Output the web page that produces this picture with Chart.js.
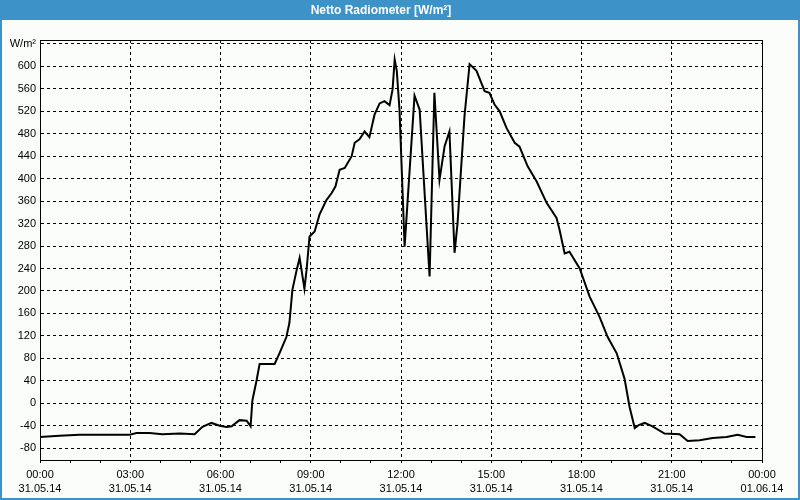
<!DOCTYPE html>
<html>
<head>
<meta charset="utf-8">
<script src="https://cdn.jsdelivr.net/npm/chart.js@4"></script>
<style>
  body { margin: 0; background: #fff; }
</style>
</head>
<body>
<canvas id="myChart" width="800" height="500"></canvas>
<script>
// time of day in hours, net radiation in W/m²
var hours = [
  0.00, 0.65, 1.31, 2.21, 2.98, 3.21, 3.64, 4.07, 4.64, 5.14,
  5.40, 5.70, 5.97, 6.20, 6.37, 6.63, 6.87, 7.00, 7.06, 7.20,
  7.30, 7.80, 7.96, 8.19, 8.29, 8.39, 8.53, 8.63, 8.79, 8.86,
  8.93, 8.96, 9.13, 9.29, 9.52, 9.69, 9.82, 9.96, 10.13, 10.36,
  10.46, 10.62, 10.79, 10.95, 11.12, 11.29, 11.45, 11.62, 11.72, 11.79,
  11.86, 11.95, 12.12, 12.45, 12.62, 12.95, 13.11, 13.28, 13.45, 13.61,
  13.78, 13.88, 14.11, 14.28, 14.51, 14.78, 14.94, 15.11, 15.28, 15.51,
  15.78, 15.94, 16.21, 16.51, 16.84, 17.17, 17.27, 17.44, 17.60, 17.94,
  18.27, 18.60, 18.87, 19.17, 19.43, 19.60, 19.77, 19.90, 20.10, 20.36,
  20.76, 21.26, 21.53, 21.93, 22.36, 22.82, 23.19, 23.49, 23.78
];
var netto = [
  -60, -58, -56, -56, -56, -53, -53, -55, -54, -55,
  -42, -35, -40, -42, -41, -30, -31, -41, 5, 41,
  70, 70, 89, 118, 143, 202, 237, 259, 204, 237,
  279, 297, 306, 336, 362, 374, 386, 416, 419, 440,
  464, 470, 484, 474, 514, 534, 538, 531, 559, 612,
  592, 523, 279, 548, 523, 226, 553, 398, 458, 484,
  268, 321, 511, 604, 592, 556, 553, 532, 520, 490,
  464, 457, 422, 395, 357, 330, 309, 267, 270, 240,
  190, 154, 118, 89, 44, -7, -44, -39, -35, -41,
  -54, -55, -67, -66, -62, -60, -56, -60, -60
];
var yTicks = [-80, -40, 0, 40, 80, 120, 160, 200, 240, 280, 320, 360, 400, 440, 480, 520, 560, 600, 640];
var xLabels = {
  0: ['00:00', '31.05.14'], 3: ['03:00', '31.05.14'], 6: ['06:00', '31.05.14'],
  9: ['09:00', '31.05.14'], 12: ['12:00', '31.05.14'], 15: ['15:00', '31.05.14'],
  18: ['18:00', '31.05.14'], 21: ['21:00', '31.05.14'], 24: ['00:00', '01.06.14']
};

var points = hours.map(function (h, i) { return {x: h, y: netto[i]}; });

var frame = {
  id: 'frame',
  beforeDraw: function (chart) {
    var c = chart.ctx;
    c.save();
    c.fillStyle = '#fbfdfb';
    c.fillRect(0, 0, chart.width, chart.height);
    c.fillStyle = '#3d92c8';
    c.fillRect(0, 0, chart.width, 20);
    c.strokeStyle = '#3d92c8';
    c.lineWidth = 2;
    c.strokeRect(1, 1, chart.width - 2, chart.height - 2);
    c.restore();
  },
  afterDraw: function (chart) {
    var a = chart.chartArea, c = chart.ctx;
    c.save();
    c.strokeStyle = '#000';
    c.lineWidth = 1;
    c.strokeRect(Math.round(a.left) + 0.5, Math.round(a.top) + 0.5,
      Math.round(a.right - a.left), Math.round(a.bottom - a.top));
    c.restore();
  }
};

var ctx = document.getElementById('myChart').getContext('2d');
var myChart = new Chart(ctx, {
  type: 'line',
  data: {
    datasets: [{
      data: points,
      borderColor: '#000',
      borderWidth: 2,
      pointRadius: 0,
      tension: 0,
      fill: false
    }]
  },
  options: {
    responsive: false,
    animation: false,
    layout: { padding: { left: 0, right: 38, top: 0, bottom: 0 } },
    plugins: {
      legend: { display: false },
      tooltip: { enabled: false },
      title: {
        display: true,
        text: 'Netto Radiometer [W/m²]',
        color: '#fff',
        font: { family: 'Liberation Sans', size: 12, weight: 'bold', lineHeight: 1.2 },
        padding: { top: 3, bottom: 22.6 }
      }
    },
    scales: {
      x: {
        type: 'linear',
        min: 0,
        max: 24,
        afterFit: function (s) { s.height = 40; },
        ticks: {
          stepSize: 1,
          autoSkip: false,
          maxRotation: 0,
          color: '#000',
          padding: 4,
          font: { family: 'Liberation Sans', size: 11, lineHeight: 1.36 },
          callback: function (v) { return xLabels[v] || ''; }
        },
        grid: {
          color: function (c) { return c.tick && c.tick.value % 3 === 0 ? '#000' : 'rgba(0,0,0,0)'; },
          tickColor: '#000',
          tickLength: 3,
          tickBorderDash: [],
          lineWidth: 1
        },
        border: { display: true, color: '#000', width: 1, dash: [3, 3] }
      },
      y: {
        min: -101,
        max: 647,
        afterFit: function (s) { s.width = 40; },
        afterBuildTicks: function (s) { s.ticks = yTicks.map(function (v) { return {value: v}; }); },
        ticks: {
          color: '#000',
          padding: 4,
          font: { family: 'Liberation Sans', size: 11 },
          callback: function (v) { return v === 640 ? 'W/m²' : v; }
        },
        grid: { color: '#000', lineWidth: 1, drawTicks: false },
        border: { display: true, color: '#000', width: 1, dash: [3, 3] }
      }
    }
  },
  plugins: [frame]
});
</script>
</body>
</html>
